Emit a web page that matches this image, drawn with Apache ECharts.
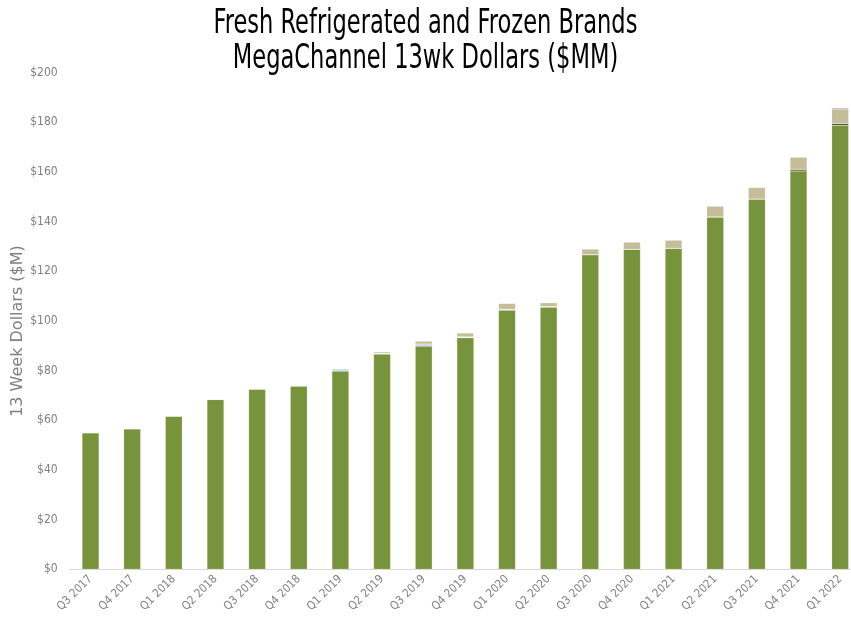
<!DOCTYPE html>
<html>
<head>
<meta charset="utf-8">
<script src="https://cdn.jsdelivr.net/npm/echarts@6/dist/echarts.min.js"></script>
<style>
  html, body { margin: 0; padding: 0; background: #fff; }
  #chart { width: 851px; height: 629px; }
</style>
</head>
<body>
<div id="chart"></div>
<script>
// quarters on the x axis
var quarters = ['Q3 2017', 'Q4 2017', 'Q1 2018', 'Q2 2018', 'Q3 2018', 'Q4 2018',
    'Q1 2019', 'Q2 2019', 'Q3 2019', 'Q4 2019', 'Q1 2020', 'Q2 2020', 'Q3 2020',
    'Q4 2020', 'Q1 2021', 'Q2 2021', 'Q3 2021', 'Q4 2021', 'Q1 2022'];

// stacked segments, $MM
var greenVals  = [55.0, 56.6, 61.7, 68.4, 72.6, 73.8, 79.9, 86.7, 89.9, 93.3, 104.4, 105.6, 126.7, 128.9, 129.3, 141.9, 149.1, 160.4, 178.8];
var darkVals   = [0, 0, 0, 0, 0, 0, 0, 0, 0, 0, 0, 0, 0, 0, 0, 0, 0, 0.7, 0.8];
var blueVals   = [0, 0, 0, 0, 0, 0, 0.8, 0.3, 0.8, 0.3, 0.3, 0.2, 0, 0, 0, 0, 0, 0, 0];
var tanVals    = [0, 0, 0, 0, 0, 0.3, 0, 0.6, 1.2, 1.6, 2.4, 1.6, 2.3, 2.9, 3.3, 4.4, 4.7, 4.9, 5.8];
var purpleVals = [0, 0, 0, 0, 0, 0, 0.2, 0, 0, 0, 0, 0, 0, 0, 0, 0, 0, 0, 0.4];

var yTicks = [0, 20, 40, 60, 80, 100, 120, 140, 160, 180, 200];

var titleLines = 'Fresh Refrigerated and Frozen Brands\nMegaChannel 13wk Dollars ($MM)';
var yName = '13 Week Dollars ($M)';

var chart = echarts.init(document.getElementById('chart'));

function seg(name, data, color) {
    return {
        name: name,
        type: 'bar',
        stack: 'total',
        barWidth: 17,
        data: data,
        itemStyle: { color: color, borderColor: 'rgba(255,255,255,0.35)', borderWidth: 0.5 }
    };
}

var option = {
    animation: false,
    graphic: [{
        // the title font is a narrow one, so squeeze the text a little
        type: 'text',
        x: 425.5,
        y: 7,
        scaleX: 0.76,
        style: {
            text: titleLines,
            fontFamily: 'DejaVu Sans Condensed, sans-serif',
            fontSize: 33,
            lineHeight: 35,
            fill: '#000',
            align: 'center',
            verticalAlign: 'top'
        }
    }, {
        // y axis title, placed by hand
        type: 'text',
        x: 18,
        y: 331,
        rotation: Math.PI / 2,
        style: {
            text: yName,
            fontFamily: 'DejaVu Sans, sans-serif',
            fontSize: 16,
            fill: '#7f7f7f',
            align: 'center',
            verticalAlign: 'middle'
        }
    }],
    grid: { left: 69.7, right: -10, top: 72.7, bottom: 59.7, outerBoundsMode: 'none' },
    xAxis: {
        type: 'category',
        data: quarters,
        axisLine: { lineStyle: { color: '#d9d9d9', width: 1 } },
        axisTick: { show: false },
        axisLabel: {
            rotate: 45,
            interval: 0,
            color: '#7f7f7f',
            fontSize: 11.5,
            fontFamily: 'Liberation Sans Narrow, DejaVu Sans Condensed, sans-serif',
            margin: 8
        }
    },
    yAxis: {
        type: 'value',
        min: 0,
        max: 200,
        interval: 20,
        splitLine: { show: false },
        axisLine: { show: false },
        axisTick: { show: false },
        axisLabel: {
            color: '#7f7f7f',
            fontSize: 12,
            fontFamily: 'Liberation Sans Narrow, DejaVu Sans Condensed, sans-serif',
            margin: 12,
            formatter: function (v) { return yTicks.indexOf(v) >= 0 ? '$' + v : ''; }
        }
    },
    series: [
        seg('Green', greenVals, '#77933c'),
        seg('Dark', darkVals, '#4a452a'),
        seg('Blue', blueVals, '#b9c7d4'),
        seg('Tan', tanVals, '#c4bd97'),
        seg('Purple', purpleVals, '#8064a2')
    ]
};

chart.setOption(option);
</script>
</body>
</html>
